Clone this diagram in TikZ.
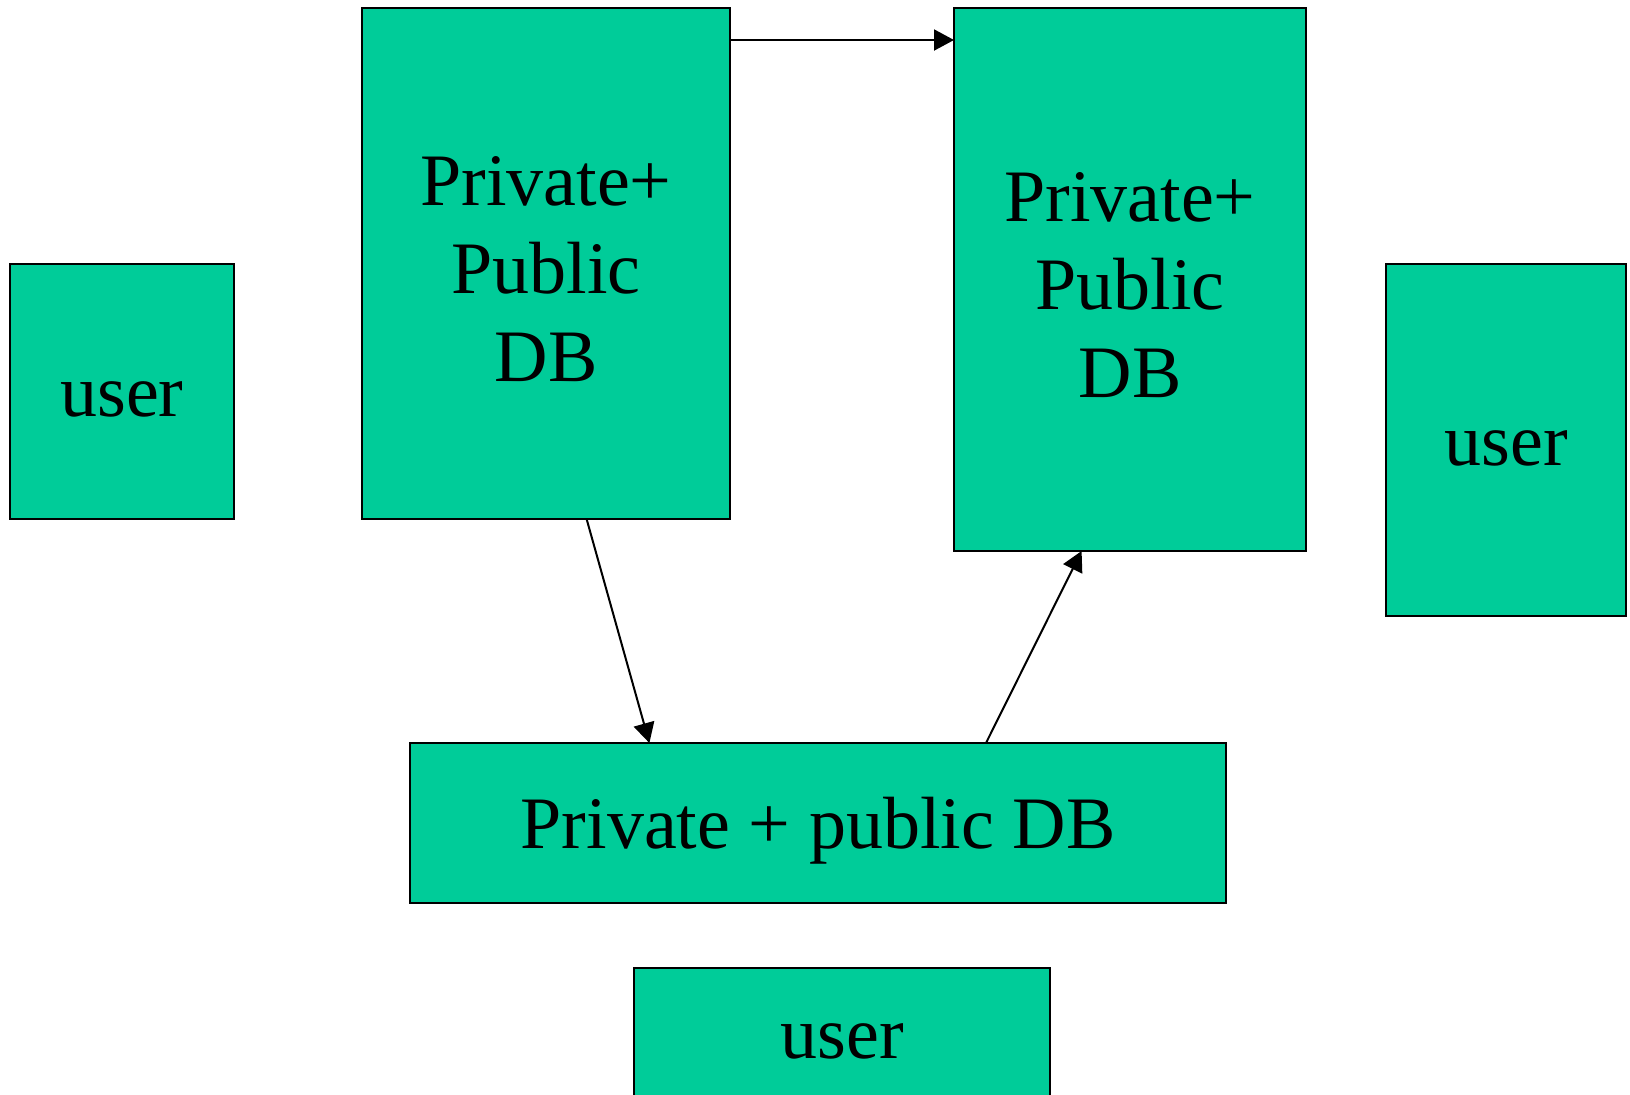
\documentclass[tikz,border=0pt]{standalone}
\usepackage{fontspec}
\setmainfont{Liberation Serif}
\usetikzlibrary{arrows.meta}
\definecolor{boxgreen}{HTML}{00CC99}
\newcommand{\firstlift}{\rule{0pt}{30.5pt}}
\tikzset{
  box/.style={draw=black, line width=1pt, fill=boxgreen, anchor=north west,
    inner sep=0pt, outer sep=0pt, align=center,
    font=\fontsize{37}{44}\selectfont},
  oneline/.style={text height=33pt, text depth=8pt},
  link/.style={line width=1pt, -{Triangle[length=10pt,width=10.5pt]}}
}
\begin{document}
\begin{tikzpicture}[x=0.5pt,y=-0.5pt]
\useasboundingbox (0,0) rectangle (1630,1094);
\node[box,oneline,minimum width=112pt,minimum height=127.5pt] (userL) at (10,264) {user};
\node[box,minimum width=184pt,minimum height=255.5pt] (db1) at (362,8) {\firstlift Private+\\Public\\DB};
\node[box,minimum width=176pt,minimum height=271.5pt] (db2) at (954,8) {\firstlift Private+\\Public\\DB};
\node[box,oneline,minimum width=120pt,minimum height=176pt] (userR) at (1386,264) {user};
\node[box,oneline,minimum width=408pt,minimum height=80pt] (mid) at (410,743) {Private + public DB};
\node[box,oneline,minimum width=208pt,minimum height=65pt] (userB) at (634,968) {user};
\draw[link] ([yshift=-16pt]db1.north east) -- ([yshift=-16pt]db2.north west);
\draw[link] ([xshift=112.3pt]db1.south west) -- ([xshift=119.7pt]mid.north west);
\draw[link] ([xshift=288pt]mid.north west) -- ([xshift=63.8pt]db2.south west);
\end{tikzpicture}
\end{document}
